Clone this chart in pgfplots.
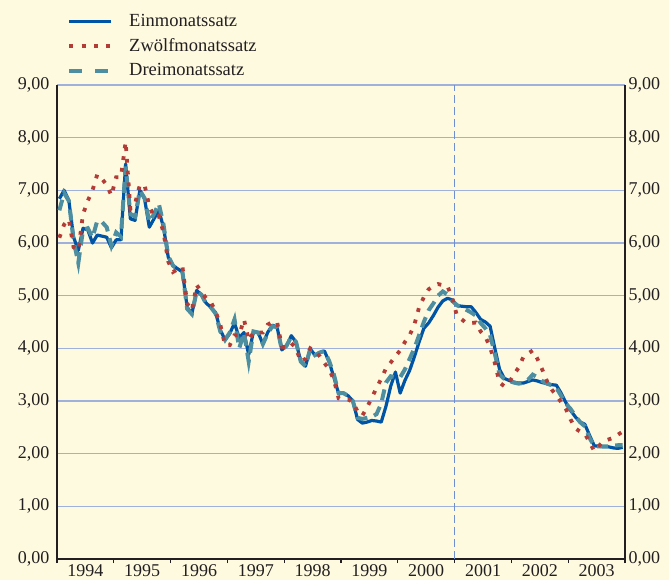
\documentclass[border=0pt]{standalone}
\usepackage{pgfplots}
\pgfplotsset{compat=1.18}
\usepackage{pgfplotstable}
\usepackage{fontspec}
\setmainfont{Liberation Serif}
\definecolor{bgc}{HTML}{FEFAE0}
\definecolor{cblue}{HTML}{0054A6}
\definecolor{cteal}{HTML}{4D8EA0}
\definecolor{cred}{HTML}{B43C37}
\definecolor{cgrid}{HTML}{A0B0DC}
\definecolor{cvline}{HTML}{6F8FD0}
\definecolor{ctext}{HTML}{231F20}
% k = month index (0 = Jan 1994); E = Einmonatssatz, Z = Zwoelfmonatssatz, D = Dreimonatssatz
\pgfplotstableread{
k E Z D
0 6.84 6.10 6.62
1 7.00 6.35 6.95
2 6.81 6.45 6.80
3 6.11 5.92 6.05
4 5.86 5.86 5.62
5 6.28 6.55 6.25
6 6.25 6.80 6.28
7 6.00 7.00 6.10
8 6.15 7.30 6.42
9 6.13 7.22 6.40
10 6.11 7.10 6.30
11 5.91 6.90 5.95
12 6.06 7.25 6.20
13 6.06 7.25 6.12
14 7.50 7.92 7.45
15 6.46 6.65 6.55
16 6.43 6.75 6.50
17 7.00 7.10 7.00
18 6.84 7.10 6.85
19 6.30 6.70 6.40
20 6.46 6.50 6.55
21 6.62 6.52 6.75
22 6.30 6.20 6.35
23 5.73 5.65 5.75
24 5.57 5.45 5.57
25 5.51 5.50 5.50
26 5.45 5.55 5.45
27 4.78 4.85 4.75
28 4.66 4.72 4.65
29 5.10 5.20 5.08
30 5.02 5.08 5.02
31 4.86 4.95 4.85
32 4.78 4.88 4.78
33 4.68 4.70 4.66
34 4.35 4.45 4.32
35 4.16 4.06 4.16
36 4.28 4.06 4.30
37 4.48 4.25 4.55
38 4.20 4.25 4.00
39 4.30 4.55 4.30
40 3.88 4.15 3.75
41 4.32 4.30 4.32
42 4.30 4.30 4.30
43 4.08 4.30 4.08
44 4.30 4.45 4.28
45 4.44 4.50 4.42
46 4.40 4.50 4.40
47 3.97 4.03 3.97
48 4.05 4.02 4.05
49 4.24 4.10 4.22
50 4.12 4.00 4.12
51 3.75 3.75 3.75
52 3.66 3.80 3.66
53 3.99 4.00 3.99
54 3.87 3.95 3.87
55 3.92 3.85 3.92
56 3.95 3.72 3.95
57 3.74 3.60 3.76
58 3.45 3.40 3.50
59 3.14 3.05 3.15
60 3.15 3.03 3.15
61 3.10 3.03 3.10
62 3.00 2.98 3.00
63 2.65 2.80 2.68
64 2.58 2.72 2.66
65 2.60 2.88 2.68
66 2.63 3.06 2.70
67 2.62 3.25 2.75
68 2.60 3.42 2.95
69 2.90 3.62 3.35
70 3.28 3.73 3.47
71 3.55 3.85 3.45
72 3.15 3.96 3.45
73 3.39 4.12 3.60
74 3.58 4.25 3.80
75 3.84 4.45 4.00
76 4.12 4.78 4.25
77 4.38 4.97 4.50
78 4.48 5.12 4.72
79 4.62 5.18 4.85
80 4.78 5.22 5.00
81 4.90 5.20 5.08
82 4.95 5.18 5.02
83 4.92 4.95 4.90
84 4.81 4.62 4.82
85 4.80 4.55 4.78
86 4.79 4.48 4.73
87 4.79 4.48 4.68
88 4.68 4.49 4.62
89 4.55 4.32 4.48
90 4.50 4.22 4.38
91 4.42 4.02 4.25
92 4.00 3.72 3.90
93 3.60 3.35 3.50
94 3.43 3.28 3.42
95 3.39 3.35 3.38
96 3.36 3.50 3.35
97 3.34 3.63 3.33
98 3.34 3.83 3.34
99 3.37 3.90 3.40
100 3.40 3.96 3.50
101 3.38 3.80 3.45
102 3.35 3.60 3.38
103 3.33 3.38 3.33
104 3.31 3.22 3.30
105 3.30 3.10 3.25
106 3.15 2.98 3.10
107 2.97 2.85 2.95
108 2.82 2.65 2.85
109 2.70 2.48 2.72
110 2.60 2.42 2.60
111 2.56 2.38 2.52
112 2.35 2.22 2.30
113 2.15 2.05 2.14
114 2.14 2.15 2.14
115 2.13 2.24 2.14
116 2.13 2.27 2.14
117 2.11 2.30 2.15
118 2.10 2.36 2.16
119 2.12 2.42 2.16
}\rates
\begin{document}
\begin{tikzpicture}
\fill[bgc] (0,0) rectangle (669bp,580bp);
\pgfplotsset{
  base/.style={
    at={(57bp,21bp)}, anchor=south west,
    width=568bp, height=474bp, scale only axis,
    xmin=-0.5, xmax=119.5, ymin=0, ymax=9,
    ytick={0,1,...,9},
    tick label style={font=\fontsize{18bp}{20bp}\selectfont, text=ctext},
    yticklabel style={/pgf/number format/fixed, /pgf/number format/fixed zerofill,
      /pgf/number format/precision=2, /pgf/number format/use comma,
      /pgf/number format/assume math mode=true},
    ytick style={draw=none},
    axis line style={line width=1.8bp, ctext},
  }
}
\begin{axis}[base,
  axis x line*=bottom, axis y line*=left,
  xtick={-0.5,11.5,23.5,35.5,47.5,59.5,71.5,83.5,95.5,107.5,119.5},
  xticklabels={1994,1995,1996,1997,1998,1999,2000,2001,2002,2003},
  x tick label as interval,
  xtick style={line width=1.2bp, ctext},
  tick align=outside, major tick length=4bp,
  xticklabel style={yshift=2bp},
  ymajorgrids, grid style={cgrid, line width=1.2bp},
  legend style={at={(0,1)}, anchor=south west, xshift=10bp, yshift=2bp,
    draw=none, fill=none, inner sep=0pt,
    font=\fontsize{18.5bp}{20bp}\selectfont, text=ctext,
    nodes={text height=13bp, text depth=3bp, inner sep=4bp},
    row sep=0.5bp},
  legend cell align=left,
  legend image code/.code={\draw[#1] (0bp,0bp) -- (42bp,0bp); \path (54bp,0bp);},
]
\addlegendimage{cblue, line width=3.2bp}
\addlegendentry{Einmonatssatz}
\addlegendimage{cred, line width=3.8bp, dash pattern=on 4bp off 8.4bp}
\addlegendentry{Zwölfmonatssatz}
\addlegendimage{cteal, line width=4bp, dash pattern=on 13bp off 13bp}
\addlegendentry{Dreimonatssatz}
\addplot[cvline, line width=1bp, dash pattern=on 8bp off 4bp, forget plot] coordinates {(83.5,0) (83.5,9)};
\addplot[cblue, line width=3.2bp, line join=round, forget plot] table[x=k, y=E] {\rates};
\addplot[cteal, line width=4bp, dash pattern=on 11bp off 7bp, forget plot] table[x=k, y=D] {\rates};
\addplot[cred, line width=3.8bp, dash pattern=on 3.8bp off 8bp, forget plot] table[x=k, y=Z] {\rates};
\end{axis}
\begin{axis}[base,
  axis x line=none, axis y line*=right,
]
\addplot[draw=none] coordinates {(0,0)};
\end{axis}
\pgfresetboundingbox
\useasboundingbox (0,0) rectangle (669bp,580bp);
\end{tikzpicture}
\end{document}
